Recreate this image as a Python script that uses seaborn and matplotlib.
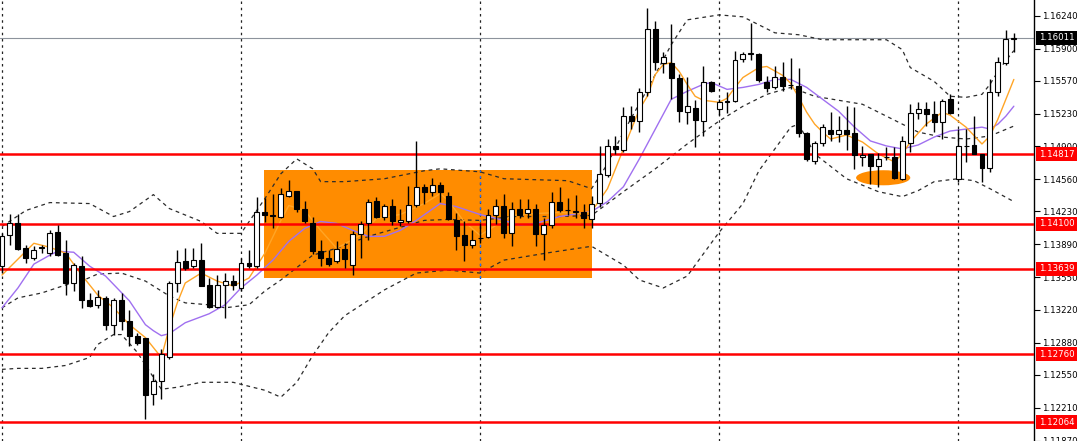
import matplotlib
matplotlib.use("Agg")
import matplotlib.pyplot as plt
import matplotlib.transforms as mtransforms
from matplotlib.patches import Rectangle, Ellipse
import seaborn as sns

# OHLC, one bar per 4 hours
opens = [1.13666, 1.13983, 1.14105, 1.13850, 1.13748, 1.13850, 1.13799, 1.14013, 1.13799, 1.13493,
         1.13666, 1.13320, 1.13269, 1.13340, 1.13065, 1.13320, 1.13105, 1.12952, 1.12932, 1.12351,
         1.12483, 1.12728, 1.13493, 1.13717, 1.13666, 1.13728, 1.13473, 1.13248, 1.13473, 1.13513,
         1.13442, 1.13697, 1.13666, 1.14227, 1.14187, 1.14176, 1.14391, 1.14442, 1.14258, 1.14105,
         1.13819, 1.13748, 1.13717, 1.13840, 1.13677, 1.13993, 1.14105, 1.14340, 1.14166, 1.14289,
         1.14115, 1.14125, 1.14299, 1.14482, 1.14431, 1.14503, 1.14391, 1.14136, 1.13983, 1.13881,
         1.13952, 1.13962, 1.14187, 1.14289, 1.14003, 1.14248, 1.14217, 1.14248, 1.13993, 1.14085,
         1.14329, 1.14238, 1.14227, 1.14227, 1.14146, 1.14319, 1.14605, 1.14901, 1.14860, 1.15207,
         1.15156, 1.15451, 1.16104, 1.15757, 1.15757, 1.15594, 1.15247, 1.15288, 1.15156, 1.15553,
         1.15278, 1.15349, 1.15360, 1.15798, 1.15849, 1.15849, 1.15553, 1.15502, 1.15604, 1.15523,
         1.15513, 1.15033, 1.14748, 1.14931, 1.15064, 1.15023, 1.15064, 1.15033, 1.14788, 1.14819,
         1.14697, 1.14788, 1.14788, 1.14564, 1.14931, 1.15237, 1.15278, 1.15227, 1.15145, 1.15380,
         1.14564, 1.14901, 1.14911, 1.14819, 1.14676, 1.15451, 1.15757, 1.16002]
highs = [1.14003, 1.14197, 1.14197, 1.13881, 1.13870, 1.13881, 1.14034, 1.14085, 1.13932, 1.13697,
         1.13768, 1.13391, 1.13422, 1.13360, 1.13340, 1.13391, 1.13218, 1.12983, 1.12932, 1.12555,
         1.12810, 1.13513, 1.13830, 1.13850, 1.13850, 1.13901, 1.13544, 1.13575, 1.13595, 1.13575,
         1.13748, 1.13830, 1.14380, 1.14370, 1.14411, 1.14472, 1.14554, 1.14442, 1.14340, 1.14176,
         1.13932, 1.13830, 1.13921, 1.13901, 1.14023, 1.14125, 1.14360, 1.14380, 1.14309, 1.14360,
         1.14258, 1.14493, 1.14952, 1.14513, 1.14574, 1.14534, 1.14431, 1.14207, 1.14125, 1.14034,
         1.14105, 1.14258, 1.14360, 1.14411, 1.14329, 1.14360, 1.14360, 1.14309, 1.14156, 1.14431,
         1.14482, 1.14370, 1.14401, 1.14309, 1.14391, 1.14901, 1.14972, 1.15003, 1.15298, 1.15309,
         1.15492, 1.16318, 1.16186, 1.15870, 1.16155, 1.15635, 1.15604, 1.15370, 1.15717, 1.15564,
         1.15380, 1.15451, 1.15880, 1.15870, 1.16165, 1.15859, 1.15615, 1.15717, 1.15768, 1.15808,
         1.15706, 1.15043, 1.14952, 1.15125, 1.15247, 1.15207, 1.15309, 1.15298, 1.14901, 1.14819,
         1.14829, 1.14890, 1.14890, 1.15003, 1.15329, 1.15349, 1.15349, 1.15360, 1.15380, 1.15431,
         1.15074, 1.15074, 1.15207, 1.14819, 1.15584, 1.15819, 1.16094, 1.16063]
lows = [1.13595, 1.13881, 1.13830, 1.13697, 1.13728, 1.13799, 1.13768, 1.13768, 1.13371, 1.13411,
        1.13238, 1.13248, 1.13238, 1.13014, 1.12963, 1.13014, 1.12850, 1.12861, 1.12096, 1.12238,
        1.12300, 1.12708, 1.13401, 1.13626, 1.13646, 1.13462, 1.13238, 1.13238, 1.13136, 1.13422,
        1.13411, 1.13646, 1.13646, 1.14115, 1.14054, 1.14156, 1.14380, 1.14227, 1.14105, 1.13789,
        1.13666, 1.13666, 1.13697, 1.13646, 1.13575, 1.13748, 1.13932, 1.14156, 1.14136, 1.14085,
        1.14074, 1.14105, 1.14278, 1.14309, 1.14391, 1.14329, 1.14136, 1.13830, 1.13717, 1.13850,
        1.13901, 1.13952, 1.14095, 1.13952, 1.13870, 1.14156, 1.14156, 1.13870, 1.13728, 1.14054,
        1.14227, 1.14187, 1.14156, 1.14054, 1.14054, 1.14278, 1.14584, 1.14819, 1.14839, 1.15074,
        1.15043, 1.15411, 1.15686, 1.15655, 1.15380, 1.15145, 1.15125, 1.14890, 1.15003, 1.15451,
        1.15217, 1.15237, 1.15349, 1.15768, 1.15788, 1.15553, 1.15451, 1.15482, 1.15462, 1.15482,
        1.14992, 1.14748, 1.14717, 1.14901, 1.14952, 1.14941, 1.14860, 1.14666, 1.14697, 1.14513,
        1.14482, 1.14758, 1.14564, 1.14554, 1.14839, 1.15176, 1.15105, 1.15043, 1.14972, 1.15227,
        1.14534, 1.14737, 1.14819, 1.14534, 1.14635, 1.15411, 1.15737, 1.15870]
closes = [1.13972, 1.14105, 1.13840, 1.13748, 1.13830, 1.13860, 1.14003, 1.13779, 1.13493, 1.13677,
          1.13320, 1.13258, 1.13350, 1.13065, 1.13320, 1.13105, 1.12952, 1.12881, 1.12340, 1.12483,
          1.12759, 1.13493, 1.13707, 1.13646, 1.13728, 1.13462, 1.13248, 1.13473, 1.13513, 1.13473,
          1.13697, 1.13666, 1.14227, 1.14187, 1.14182, 1.14411, 1.14442, 1.14258, 1.14125, 1.13819,
          1.13748, 1.13687, 1.13840, 1.13738, 1.13993, 1.14095, 1.14329, 1.14166, 1.14289, 1.14125,
          1.14136, 1.14299, 1.14482, 1.14431, 1.14503, 1.14431, 1.14146, 1.13972, 1.13881, 1.13932,
          1.13952, 1.14187, 1.14289, 1.14003, 1.14248, 1.14187, 1.14248, 1.13993, 1.14085, 1.14329,
          1.14238, 1.14238, 1.14227, 1.14156, 1.14309, 1.14615, 1.14901, 1.14870, 1.15207, 1.15156,
          1.15451, 1.16104, 1.15768, 1.15819, 1.15594, 1.15258, 1.15309, 1.15166, 1.15553, 1.15462,
          1.15349, 1.15360, 1.15788, 1.15849, 1.15859, 1.15574, 1.15492, 1.15604, 1.15513, 1.15523,
          1.15033, 1.14768, 1.14931, 1.15094, 1.15023, 1.15064, 1.15023, 1.14809, 1.14809, 1.14697,
          1.14768, 1.14788, 1.14574, 1.14952, 1.15237, 1.15278, 1.15227, 1.15145, 1.15360, 1.15237,
          1.14901, 1.14901, 1.14819, 1.14676, 1.15451, 1.15768, 1.16002, 1.16011]

# indicator lines, sampled at bar numbers
fast_bars = [0, 4, 6, 8, 10, 12, 14, 16, 18, 20, 21, 22, 23, 25, 27, 29, 31, 33, 35, 36,
             38, 40, 42, 45, 47, 50, 53, 55, 56, 58, 60, 62, 64, 67, 70, 73, 74, 76, 78, 80,
             81, 82, 83, 84, 85, 86, 87, 88, 89, 90, 91, 92, 93, 95, 96, 98, 99, 100, 101, 102,
             103, 104, 106, 108, 110, 112, 113, 114, 116, 118, 119, 121, 123, 124, 125, 126, 127]
fast_ma = [1.13575, 1.13901, 1.13860, 1.13799, 1.13575, 1.13371, 1.13238, 1.13065, 1.12932, 1.12728,
           1.13034, 1.13289, 1.13493, 1.13595, 1.13513, 1.13462, 1.13544, 1.13799, 1.14136, 1.14289,
           1.14238, 1.14034, 1.13850, 1.13983, 1.14156, 1.14197, 1.14309, 1.14411, 1.14340, 1.14125,
           1.13983, 1.14085, 1.14187, 1.14207, 1.14217, 1.14207, 1.14227, 1.14462, 1.14870, 1.15278,
           1.15411, 1.15635, 1.15737, 1.15757, 1.15666, 1.15533, 1.15411, 1.15370, 1.15360, 1.15349,
           1.15390, 1.15502, 1.15604, 1.15706, 1.15717, 1.15625, 1.15543, 1.15400, 1.15247, 1.15125,
           1.15043, 1.14972, 1.15013, 1.14941, 1.14819, 1.14737, 1.14819, 1.14941, 1.15125, 1.15247,
           1.15217, 1.15094, 1.14921, 1.15003, 1.15176, 1.15380, 1.15584]

slow_bars = [0, 2, 4, 6, 7, 9, 11, 13, 16, 18, 19, 20, 21, 23, 26, 28, 30, 32, 34, 36,
             38, 40, 42, 44, 46, 48, 50, 52, 55, 57, 60, 63, 65, 67, 70, 74, 76, 78, 80, 82,
             84, 86, 88, 89, 91, 93, 95, 97, 99, 101, 103, 105, 107, 109, 111, 113, 115, 117, 119, 121,
             123, 124, 125, 126, 127]
slow_ma = [1.13238, 1.13442, 1.13687, 1.13779, 1.13819, 1.13809, 1.13666, 1.13564, 1.13309, 1.13065,
           1.13003, 1.12952, 1.12973, 1.13085, 1.13177, 1.13269, 1.13442, 1.13575, 1.13728, 1.13921,
           1.14054, 1.14125, 1.14105, 1.14034, 1.13972, 1.13972, 1.14034, 1.14136, 1.14309, 1.14278,
           1.14197, 1.14136, 1.14085, 1.14105, 1.14176, 1.14227, 1.14329, 1.14482, 1.14768, 1.15074,
           1.15380, 1.15462, 1.15533, 1.15553, 1.15482, 1.15502, 1.15533, 1.15584, 1.15584, 1.15502,
           1.15380, 1.15258, 1.15094, 1.14952, 1.14901, 1.14870, 1.14911, 1.14992, 1.15054, 1.15074,
           1.15094, 1.15074, 1.15125, 1.15207, 1.15309]

# bollinger bands (upper / middle / lower)
upper_bars = [0, 3, 6, 11, 14, 16, 19, 21, 25, 27, 30, 33, 35, 37, 39, 40, 43, 48, 53, 55,
              60, 63, 71, 74, 76, 78, 81, 84, 86, 90, 93, 95, 97, 100, 103, 107, 111, 113, 114, 117,
              119, 121, 123, 124, 125, 126, 127]
upper_band = [1.14074, 1.14238, 1.14319, 1.14309, 1.14176, 1.14227, 1.14401, 1.14258, 1.14125, 1.14003,
              1.14003, 1.14360, 1.14615, 1.14768, 1.14666, 1.14534, 1.14534, 1.14564, 1.14646, 1.14666,
              1.14635, 1.14564, 1.14544, 1.14462, 1.14717, 1.15043, 1.15482, 1.15941, 1.16196, 1.16247,
              1.16227, 1.16145, 1.16063, 1.16043, 1.15992, 1.15992, 1.15992, 1.15890, 1.15706, 1.15564,
              1.15411, 1.15400, 1.15431, 1.15533, 1.15666, 1.15778, 1.15880]

mid_bars = [0, 2, 5, 8, 10, 12, 15, 18, 21, 23, 26, 28, 31, 33, 35, 39, 42, 46, 53, 56,
            60, 64, 70, 74, 78, 82, 86, 90, 93, 96, 99, 102, 105, 108, 111, 115, 118, 121, 124, 127]
mid_band = [1.13238, 1.13340, 1.13391, 1.13473, 1.13513, 1.13585, 1.13595, 1.13513, 1.13360, 1.13289,
            1.13269, 1.13238, 1.13269, 1.13411, 1.13524, 1.13779, 1.13850, 1.13972, 1.14136, 1.14146,
            1.14136, 1.14176, 1.14176, 1.14187, 1.14431, 1.14666, 1.14921, 1.15156, 1.15309, 1.15431,
            1.15502, 1.15411, 1.15370, 1.15329, 1.15207, 1.15043, 1.14992, 1.14972, 1.15003, 1.15105]

lower_bars = [0, 2, 5, 8, 11, 12, 14, 15, 17, 19, 20, 22, 25, 29, 33, 35, 37, 39, 41, 43,
              48, 52, 56, 60, 63, 69, 74, 78, 80, 83, 86, 90, 93, 95, 99, 100, 102, 106, 110, 113,
              115, 117, 120, 122, 124, 127]
lower_band = [1.12606, 1.12616, 1.12616, 1.12646, 1.12728, 1.12861, 1.12963, 1.12963, 1.12779, 1.12524,
              1.12402, 1.12422, 1.12473, 1.12473, 1.12391, 1.12320, 1.12473, 1.12748, 1.12983, 1.13156,
              1.13422, 1.13595, 1.13626, 1.13595, 1.13728, 1.13809, 1.13870, 1.13677, 1.13524, 1.13442,
              1.13564, 1.14013, 1.14309, 1.14646, 1.15094, 1.15125, 1.14819, 1.14564, 1.14431, 1.14380,
              1.14442, 1.14534, 1.14564, 1.14544, 1.14462, 1.14329]

levels = [1.14817, 1.14100, 1.13639, 1.12760, 1.12064]
last_price = 1.16011
price_ticks = [1.16240, 1.15900, 1.15570, 1.15230, 1.14900, 1.14560, 1.14230,
               1.13890, 1.13550, 1.13220, 1.12880, 1.12550, 1.12210, 1.11870]
week_starts = [0, 30, 60, 90, 120]
zone_bars = [32.9, 74.1]
zone_prices = [1.13544, 1.14656]
spot_bar, spot_price = 110.6, 1.14574

W, H = 1080, 441
fig = plt.figure(figsize=(W / 100, H / 100), dpi=100)
sns.set_style("white")
plt.rcParams["font.family"] = ["DejaVu Sans"]
ax = fig.add_axes([0, 0, 1034 / W, 1])
ax.set_xlim(-0.25, 129.53)
ax.set_ylim(1.11902, 1.16400)

orange = "#ff8c00"
ax.add_patch(Rectangle((zone_bars[0], zone_prices[0]), zone_bars[1] - zone_bars[0],
                       zone_prices[1] - zone_prices[0], facecolor=orange, edgecolor="none", zorder=0.5))
ax.add_patch(Ellipse((spot_bar, spot_price), 6.8, 0.00155, facecolor=orange, edgecolor="none", zorder=0.5))

for b in week_starts:
    ax.axvline(b, color="#222222", lw=0.9, ls=(0, (2, 3)), zorder=1)
ax.vlines(60, zone_prices[0], zone_prices[1], color="#1e6fff", lw=0.9, ls=(0, (2, 3)), zorder=1.1)

ax.axhline(last_price, color="#8d939c", lw=0.8, zorder=1)
for lv in levels:
    ax.axhline(lv, color="#ff0000", lw=1.8, zorder=4)

# bands and moving averages
band_style = dict(color="#2b2b2b", linewidth=0.9, linestyle=(0, (3, 3)), zorder=2)
sns.lineplot(x=upper_bars, y=upper_band, ax=ax, **band_style)
sns.lineplot(x=mid_bars, y=mid_band, ax=ax, **band_style)
sns.lineplot(x=lower_bars, y=lower_band, ax=ax, **band_style)
sns.lineplot(x=slow_bars, y=slow_ma, ax=ax, color="#a070f0", linewidth=1.0, zorder=2)
sns.lineplot(x=fast_bars, y=fast_ma, ax=ax, color="#ffa526", linewidth=1.0, zorder=2)

# candles
bars = list(range(len(opens)))
ax.vlines(bars, lows, highs, color="black", lw=1.0, zorder=5)
for i, (o, c) in enumerate(zip(opens, closes)):
    body = max(abs(c - o), 0.00004)
    ax.bar(i, body, bottom=min(o, c), width=0.62,
           color="white" if c >= o else "black", edgecolor="black", linewidth=0.8, zorder=6)

# right price scale
ax.yaxis.tick_right()
ax.set_yticks(price_ticks)
ax.set_yticklabels([f"{t:.5f}" for t in price_ticks])
ax.tick_params(axis="y", direction="out", length=4, width=0.8, pad=2, labelsize=6.2, colors="black")
ax.set_xticks([])
for s in ["top", "left", "bottom"]:
    ax.spines[s].set_visible(False)
ax.spines["right"].set_color("black")
ax.spines["right"].set_linewidth(1)

trans = mtransforms.blended_transform_factory(ax.transAxes, ax.transData)
for lv in levels:
    ax.text(1.0045, lv, f"{lv:.5f}", transform=trans, ha="left", va="center", fontsize=6.2,
            color="white", clip_on=False, zorder=10,
            bbox=dict(boxstyle="square,pad=0.3", facecolor="#ff0000", edgecolor="none"))
ax.text(1.0045, last_price, f"{last_price:.5f}", transform=trans, ha="left", va="center", fontsize=6.2,
        color="white", clip_on=False, zorder=10,
        bbox=dict(boxstyle="square,pad=0.3", facecolor="black", edgecolor="none"))

fig.savefig("out.png", dpi=100, facecolor="white")
